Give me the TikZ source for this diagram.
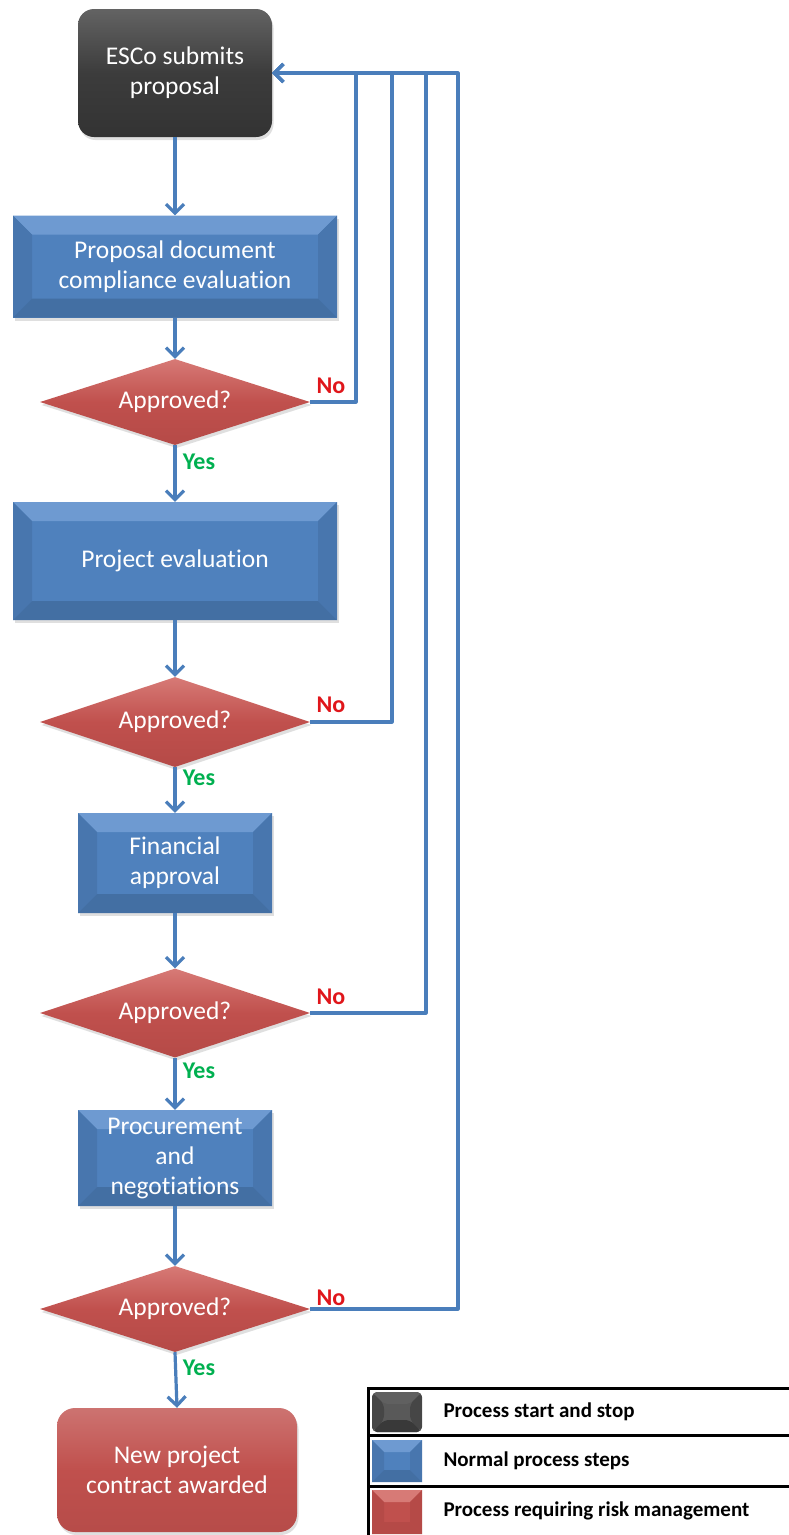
\documentclass[tikz,border=0pt]{standalone}
\usepackage{fontspec}
\setmainfont{Carlito}[Ligatures={NoCommon,NoRare,NoContextual}, Contextuals=NoAlternate]
\usetikzlibrary{arrows.meta,shapes.geometric,calc,shadows}

\definecolor{flowblue}{HTML}{4A7EBB}
\definecolor{boxblue}{HTML}{4F81BD}
\definecolor{boxblueL}{HTML}{6E9AD1}
\definecolor{boxblueS}{HTML}{4876AE}
\definecolor{boxblueD}{HTML}{436FA3}
\definecolor{boxred}{HTML}{C0504D}
\definecolor{boxredL}{HTML}{D77A76}
\definecolor{boxredS}{HTML}{B54A47}
\definecolor{boxgray}{HTML}{3C3C3C}
\definecolor{nored}{HTML}{E0161B}
\definecolor{yesgreen}{HTML}{00B050}

\tikzset{
  % bevelled fill: depth, light top, side shade, bottom shade
  bevel/.style n args={4}{path picture={
    \fill[#2] let \p1=(path picture bounding box.south west), \p2=(path picture bounding box.north east) in
      (\x1,\y2) -- (\x2,\y2) -- (\x2-#1,\y2-#1) -- (\x1+#1,\y2-#1) -- cycle;
    \fill[#3] let \p1=(path picture bounding box.south west), \p2=(path picture bounding box.north east) in
      (\x1,\y1) -- (\x1,\y2) -- (\x1+#1,\y2-#1) -- (\x1+#1,\y1+#1) -- cycle;
    \fill[#3] let \p1=(path picture bounding box.south west), \p2=(path picture bounding box.north east) in
      (\x2,\y1) -- (\x2,\y2) -- (\x2-#1,\y2-#1) -- (\x2-#1,\y1+#1) -- cycle;
    \fill[#4] let \p1=(path picture bounding box.south west), \p2=(path picture bounding box.north east) in
      (\x1,\y1) -- (\x2,\y1) -- (\x2-#1,\y1+#1) -- (\x1+#1,\y1+#1) -- cycle;
  }},
  boxtext/.style={text=white, align=center, font=\fontsize{25.5}{30}\selectfont},
  shade/.style={drop shadow={opacity=0.25, shadow xshift=1.5pt, shadow yshift=-3pt}},
  procbox/.style={rectangle, fill=boxblue, inner sep=0pt, boxtext, shade,
    bevel={19pt}{boxblueL}{boxblueS}{boxblueD}},
  startbox/.style={rectangle, rounded corners=16pt, inner sep=0pt, boxtext, shade,
    top color=boxgray!80!white, bottom color=boxgray!85!black, middle color=boxgray},
  endbox/.style={rectangle, rounded corners=18pt, inner sep=0pt, boxtext, shade,
    top color=boxred!80!white, bottom color=boxred!95!black, middle color=boxred},
  decision/.style={diamond, aspect=3.2, inner sep=0pt, minimum width=270pt, boxtext, shade,
    top color=boxredL, bottom color=boxredS, middle color=boxred},
  nolabel/.style={text=nored, font=\bfseries\fontsize{24}{24}\selectfont},
  yeslabel/.style={text=yesgreen, font=\bfseries\fontsize{24}{24}\selectfont},
  flowline/.style={draw=flowblue, line width=3.2pt, line join=round},
  flow/.style={flowline, -{Straight Barb[length=9pt,width=18pt]}},
  legendline/.style={draw=black, line width=3pt},
  legendtext/.style={anchor=west, text=black, font=\bfseries\fontsize{21}{21}\selectfont},
  legendicon/.style={rectangle, inner sep=0pt, minimum width=50pt},
}

\begin{document}
\begin{tikzpicture}[x=1pt, y=-1pt]
\useasboundingbox (0,0) rectangle (788,1535);
\fill[white] (0,0) rectangle (788,1535);

% main chain of steps
\node[startbox, minimum width=194pt, minimum height=128pt] (s) at (175,73) {ESCo submits\\proposal};
\node[procbox, minimum width=324pt, minimum height=102pt] (b1) at (175,266.5) {Proposal document\\compliance evaluation};
\node[decision, minimum height=86pt] (d1) at (175,402) {Approved?};
\node[procbox, minimum width=324pt, minimum height=118pt] (b2) at (175,561) {Project evaluation};
\node[decision, minimum height=90pt] (d2) at (175,722) {Approved?};
\node[procbox, minimum width=194pt, minimum height=100pt] (b3) at (175,863) {Financial\\approval};
\node[decision, minimum height=89pt] (d3) at (175,1013) {Approved?};
\node[procbox, minimum width=194pt, minimum height=96pt] (b4) at (175,1158) {Procurement\\and\\negotiations};
\node[decision, minimum height=86pt] (d4) at (175,1309) {Approved?};
\node[endbox, minimum width=240pt, minimum height=124pt] (e) at (177,1470) {New project\\contract awarded};

% forward connectors
\draw[flow] (s.south) -- (b1.north);
\draw[flow] (b1.south) -- (d1.north);
\draw[flow] (d1.south) -- (b2.north);
\draw[flow] (b2.south) -- (d2.north);
\draw[flow] (d2.south) -- (b3.north);
\draw[flow] (b3.south) -- (d3.north);
\draw[flow] (d3.south) -- (b4.north);
\draw[flow] (b4.south) -- (d4.north);
\draw[flow] (d4.south) -- (e.north);

% rejection loops back to the proposal
\coordinate (r1) at (356,73);
\coordinate (r2) at (392,73);
\coordinate (r3) at (426,73);
\coordinate (r4) at (458,73);
\draw[flow] (d4.east) -| (r4) -- (s.east);
\draw[flow] (d3.east) -| (r3) -- (s.east);
\draw[flow] (d2.east) -| (r2) -- (s.east);
\draw[flow] (d1.east) -| (r1) -- (s.east);

% branch labels
\node[nolabel] (n1) at (331,386) {No};
\node[nolabel] (n2) at (331,705) {No};
\node[nolabel] (n3) at (331,997) {No};
\node[nolabel] (n4) at (331,1298) {No};
\node[yeslabel] (y1) at (199,462) {Yes};
\node[yeslabel] (y2) at (199,778) {Yes};
\node[yeslabel] (y3) at (199,1071) {Yes};
\node[yeslabel] (y4) at (199,1368) {Yes};

% legend
\draw[legendline] (368,1388) rectangle (795,1435);
\draw[legendline] (368,1435) rectangle (795,1486);
\draw[legendline] (368,1486) rectangle (795,1545);
\node[legendicon, minimum height=40pt, rounded corners=5pt, fill=boxgray!85!white,
  bevel={12pt}{gray!75!black}{gray!55!black}{gray!45!black}] (k1) at (397,1412) {};
\node[legendicon, minimum height=42pt, fill=boxblue,
  bevel={12pt}{boxblueL}{boxblueS}{boxblueD}] (k2) at (397,1461) {};
\node[legendicon, minimum height=44pt, fill=boxred,
  bevel={12pt}{boxredL}{boxredS}{boxredS}] (k3) at (397,1512) {};
\node[legendtext] (t1) at (440,1412) {Process start and stop};
\node[legendtext] (t2) at (440,1461) {Normal process steps};
\node[legendtext] (t3) at (440,1511) {Process requiring risk management};
\end{tikzpicture}
\end{document}
